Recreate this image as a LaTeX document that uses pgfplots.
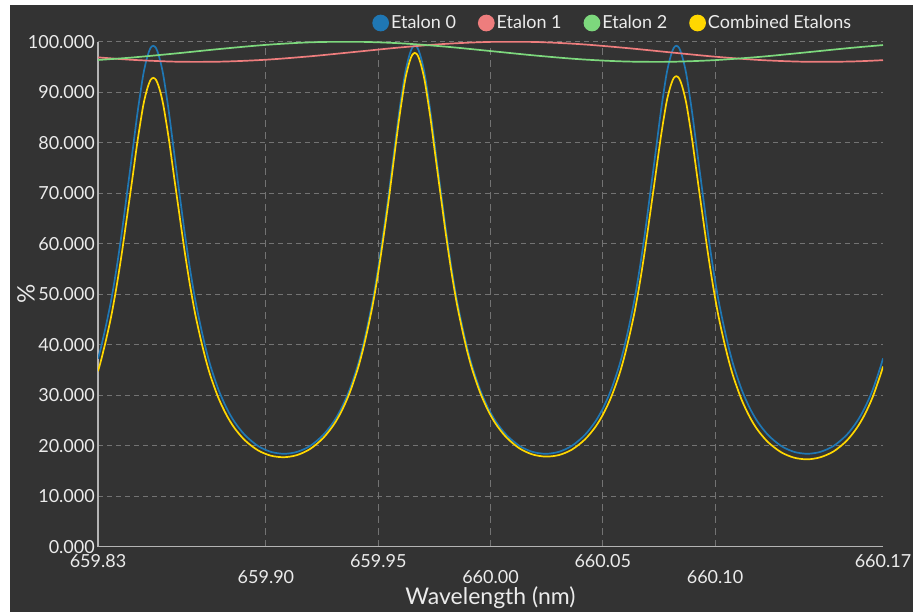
\documentclass[border=0pt]{standalone}
\usepackage{fontspec}
\setmainfont{Lato}
\usepackage{pgfplots}
\usepackage{pgfplotstable}
\pgfplotsset{compat=1.18}
\definecolor{bg}{HTML}{333333}
\definecolor{gridc}{HTML}{737373}
\definecolor{axc}{HTML}{B4B4B4}
\definecolor{txt}{HTML}{EBEBEB}
\definecolor{c0}{HTML}{1F77B4}
\definecolor{c1}{HTML}{EE7D7D}
\definecolor{c2}{HTML}{7DD87D}
\definecolor{c3}{HTML}{FFD700}

% x = (wavelength - 660 nm) in pm
\pgfplotstableread{
x T0 C
-174.8 37.20 34.74
-173.5 39.42 36.81
-171.2 43.89 40.99
-168.8 49.14 45.89
-166.5 55.24 51.59
-164.2 62.20 58.09
-161.9 69.90 65.28
-159.5 78.02 72.86
-157.2 85.95 80.31
-154.9 92.80 86.76
-153.7 95.49 89.30
-152.5 97.51 91.21
-151.4 98.77 92.42
-150.2 99.20 92.84
-149.0 98.77 92.47
-147.9 97.51 91.31
-146.7 95.49 89.45
-145.5 92.80 86.94
-143.2 85.95 80.57
-140.9 78.02 73.18
-138.5 69.90 65.62
-136.2 62.20 58.45
-133.9 55.24 51.97
-131.6 49.14 46.28
-129.2 43.89 41.38
-126.9 39.42 37.21
-124.6 35.64 33.67
-121.1 31.05 29.38
-117.6 27.51 26.09
-114.1 24.78 23.55
-109.4 22.12 21.08
-103.6 19.96 19.09
-97.8 18.78 18.02
-91.9 18.40 17.72
-86.1 18.78 18.15
-80.3 19.96 19.36
-74.5 22.12 21.52
-69.8 24.78 24.16
-66.3 27.51 26.87
-62.8 31.05 30.38
-59.3 35.64 34.93
-57.0 39.42 38.66
-54.7 43.89 43.07
-52.3 49.14 48.26
-50.0 55.24 54.28
-47.7 62.20 61.16
-45.3 69.90 68.78
-43.0 78.02 76.82
-40.7 85.95 84.69
-38.4 92.80 91.46
-37.2 95.49 94.11
-36.0 97.51 96.11
-34.9 98.77 97.35
-33.7 99.20 97.78
-32.5 98.77 97.36
-31.4 97.51 96.12
-30.2 95.49 94.12
-29.0 92.80 91.48
-26.7 85.95 84.73
-24.4 78.02 76.91
-22.0 69.90 68.91
-19.7 62.20 61.32
-17.4 55.24 54.43
-15.1 49.14 48.39
-12.7 43.89 43.20
-10.4 39.42 38.77
-8.1 35.64 35.04
-4.6 31.05 30.50
-1.1 27.51 27.00
2.4 24.78 24.28
7.1 22.12 21.63
12.9 19.96 19.47
18.7 18.78 18.27
24.6 18.40 17.84
30.4 18.78 18.14
36.2 19.96 19.21
42.0 22.12 21.22
46.7 24.78 23.71
50.2 27.51 26.26
53.7 31.05 29.58
57.2 35.64 33.88
59.5 39.42 37.42
61.8 43.89 41.62
64.2 49.14 46.54
66.5 55.24 52.26
68.8 62.20 58.78
71.1 69.90 65.98
73.5 78.02 73.56
75.8 85.95 80.95
78.1 92.80 87.31
79.3 95.49 89.79
80.5 97.51 91.64
81.6 98.77 92.80
82.8 99.20 93.17
84.0 98.77 92.74
85.1 97.51 91.53
86.3 95.49 89.60
87.5 92.80 87.05
89.8 85.95 80.58
92.1 78.02 73.10
94.5 69.90 65.45
96.8 62.20 58.20
99.1 55.24 51.66
101.4 49.14 45.94
103.8 43.89 41.03
106.1 39.42 36.85
108.4 35.64 33.32
111.9 31.05 29.03
115.4 27.51 25.72
118.9 24.78 23.16
123.6 22.12 20.70
129.4 19.96 18.71
135.2 18.78 17.63
141.1 18.40 17.30
146.9 18.78 17.71
152.8 19.96 18.87
158.6 22.12 20.97
163.2 24.78 23.55
166.7 27.51 26.20
170.2 31.05 29.63
173.7 35.64 34.08
174.8 37.30 35.69
}\etalonA

\pgfplotstableread{
x T1 T2
-174.8 96.90 96.38
-160 96.42 96.85
-140 96.04 97.68
-120 96.05 98.58
-100 96.43 99.37
-80 97.12 99.88
-60 97.99 99.99
-40 98.87 99.68
-20 99.57 99.02
0 99.96 98.15
20 99.94 97.26
40 99.51 96.52
60 98.77 96.08
80 97.89 96.02
100 97.03 96.35
120 96.37 97.00
140 96.03 97.86
160 96.07 98.75
174.8 96.34 99.33
}\etalonB

\begin{document}
\begin{tikzpicture}
\path[use as bounding box] (0pt,0pt) rectangle (913pt,612pt);
\clip (0pt,0pt) rectangle (913pt,612pt);
\fill[white] (0pt,0pt) rectangle (913pt,612pt);
\fill[bg] (10pt,0pt) rectangle (913pt,607pt);
\begin{axis}[
  at={(98pt,65.3pt)}, anchor=south west,
  scale only axis, width=785pt, height=505pt,
  xmin=-174.8, xmax=174.8, ymin=0, ymax=100,
  axis lines=left,
  axis line style={-, draw=axc, line width=1.5pt},
  major tick length=0pt,
  grid=major,
  x grid style={gridc, line width=1pt, dash pattern=on 7pt off 5pt},
  y grid style={gridc, line width=1.2pt, dash pattern=on 5pt off 4pt},
  xtick={-100,-50,0,50,100},
  xticklabels={{\raisebox{-16pt}[\height][0pt]{659.90}},{659.95},{\raisebox{-16pt}[\height][0pt]{660.00}},{660.05},{\raisebox{-16pt}[\height][0pt]{660.10}}},
  extra x ticks={-174.8,174.8},
  extra x tick labels={659.83,660.17},
  extra x tick style={grid=none},
  ytick={0,10,...,100},
  tick label style={font=\fontsize{18}{21}\selectfont, text=txt},
  xticklabel style={inner sep=0pt, anchor=north, yshift=-8pt},
  yticklabel style={inner sep=0pt, anchor=east, xshift=-3pt,
    /pgf/number format/fixed, /pgf/number format/fixed zerofill,
    /pgf/number format/precision=3, /pgf/number format/assume math mode=true},
  xlabel={Wavelength (nm)},
  ylabel={\%},
  every axis x label/.style={at={(rel axis cs:0.5,0)}, anchor=base, yshift=-58pt,
    font=\fontsize{23}{27}\selectfont, text=txt},
  every axis y label/.style={at={(rel axis cs:-0.0917,0.5)}, rotate=90, anchor=center,
    font=\fontsize{24}{28}\selectfont, text=txt},
  legend columns=4,
  legend style={draw=none, fill=none, at={(0.6557,1.037)}, anchor=center,
    font=\fontsize{18}{21}\selectfont, text=txt,
    nodes={inner xsep=2pt, inner ysep=1pt},
    /tikz/every even column/.append style={column sep=20pt}},
  legend image code/.code={\fill[#1] (0pt,0pt) circle (7.5pt);},
  clip=true,
]
\addplot[c0, line width=1.7pt, smooth, no marks] table[x=x, y=T0] {\etalonA};
\addplot[c1, line width=1.7pt, smooth, no marks] table[x=x, y=T1] {\etalonB};
\addplot[c2, line width=1.7pt, smooth, no marks] table[x=x, y=T2] {\etalonB};
\addplot[c3, line width=1.7pt, smooth, no marks] table[x=x, y=C] {\etalonA};
\legend{Etalon 0, Etalon 1, Etalon 2, Combined Etalons}
\end{axis}
\end{tikzpicture}
\end{document}
